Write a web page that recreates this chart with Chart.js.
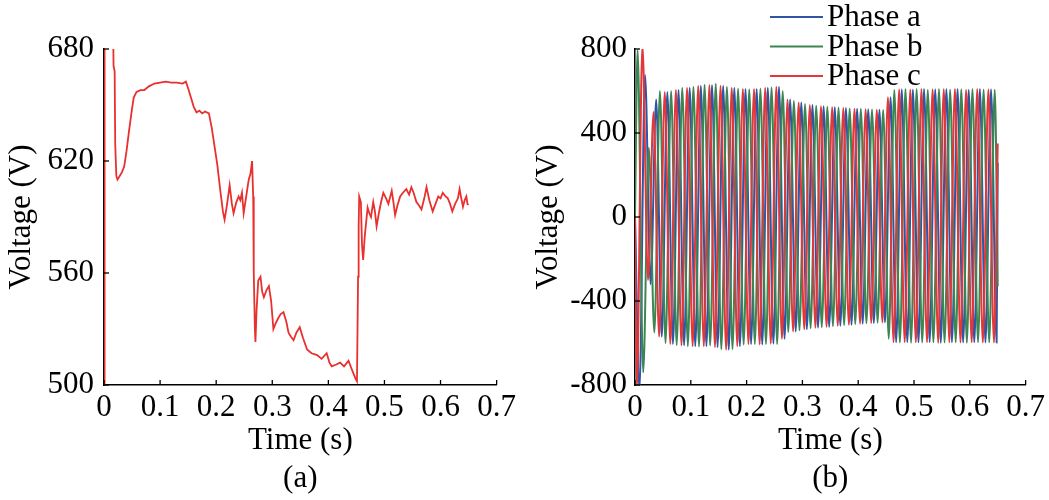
<!DOCTYPE html>
<html>
<head>
<meta charset="utf-8">
<script src="https://cdn.jsdelivr.net/npm/chart.js@4"></script>
<style>
  html, body { margin: 0; padding: 0; background: #fff; }
  #wrap { position: relative; width: 1049px; height: 500px; overflow: hidden; }
  canvas { position: absolute; top: 0; }
  #chartA { left: 0; }
  #chartB { left: 525px; }
</style>
</head>
<body>
<div id="wrap">
  <canvas id="chartA" width="520" height="500"></canvas>
  <canvas id="chartB" width="524" height="500"></canvas>
</div>
<script>
// ---- panel (a): DC-link voltage ----
const timeLeft = [0, 0.001, 0.016, 0.017, 0.019, 0.02, 0.022, 0.024, 0.028, 0.032, 0.036, 0.04, 0.045, 0.05, 0.053,
  0.058, 0.065, 0.072, 0.08, 0.09, 0.1, 0.11, 0.12, 0.13, 0.14, 0.146, 0.15, 0.155, 0.16, 0.165, 0.17, 0.175, 0.18,
  0.187, 0.192, 0.197, 0.202, 0.207, 0.212, 0.215, 0.219, 0.224, 0.228, 0.231, 0.236, 0.24, 0.243, 0.246, 0.249,
  0.253, 0.258, 0.261, 0.264, 0.266, 0.267, 0.269, 0.27, 0.272, 0.275, 0.279, 0.282, 0.285, 0.29, 0.294, 0.298,
  0.302, 0.306, 0.311, 0.315, 0.32, 0.325, 0.329, 0.333, 0.338, 0.343, 0.349, 0.355, 0.362, 0.37, 0.38, 0.388,
  0.397, 0.402, 0.406, 0.414, 0.421, 0.428, 0.436, 0.441, 0.445, 0.449, 0.451, 0.452, 0.453, 0.454, 0.455, 0.458,
  0.46, 0.462, 0.465, 0.47, 0.473, 0.476, 0.48, 0.483, 0.486, 0.49, 0.494, 0.498, 0.503, 0.507, 0.513, 0.516, 0.519,
  0.523, 0.528, 0.533, 0.539, 0.544, 0.548, 0.552, 0.557, 0.562, 0.566, 0.571, 0.575, 0.58, 0.586, 0.591, 0.596,
  0.6, 0.604, 0.609, 0.613, 0.617, 0.621, 0.626, 0.631, 0.634, 0.637, 0.64, 0.643, 0.646, 0.648, 0.65];
const voltageLeft = [500, 700, 700, 671, 668, 629, 612, 610, 612, 614, 617, 625, 637, 648, 654,
  657, 658, 658, 660, 661.5, 662, 662.5, 662, 662, 661.5, 662.5, 659, 654, 649, 646, 647, 645.5, 646.5,
  645.5, 638, 628, 618, 605, 593, 588.5, 596, 607, 597, 592, 598, 601, 599, 603, 592,
  600, 610, 613, 620, 601, 560, 530, 523, 540, 556, 558, 550, 547, 551, 553, 545,
  530, 533, 536, 538, 539, 534, 528, 526, 524, 528, 531, 525, 519, 517, 516, 514,
  517, 512, 510, 511, 512, 510, 513, 509, 506, 503, 502, 530, 558, 585, 601, 598,
  575, 567, 580, 595, 592, 590, 598, 593, 585, 592, 598, 603, 600, 597, 604, 598, 591,
  596, 601, 603, 605, 602, 606, 603, 598, 596, 594, 600, 606, 599, 593, 597, 601,
  600, 603, 601, 600, 597, 593, 597, 600, 605, 600, 595.5, 599, 601, 597, 596.5];

const xTickValues = [0, 0.1, 0.2, 0.3, 0.4, 0.5, 0.6, 0.7];
const xTickLabels = ['0', '0.1', '0.2', '0.3', '0.4', '0.5', '0.6', '0.7'];
const yTickValuesA = [500, 560, 620, 680];
const yTickLabelsA = ['500', '560', '620', '680'];

// ---- panel (b): three-phase voltages, peak values read per 10 ms slot ----
const yTickValuesB = [-800, -400, 0, 400, 800];
const yTickLabelsB = ['-800', '-400', '0', '400', '800'];
const halfPeriod = 0.01;
const firstPeakA = 0.008, firstPeakB = 0.0047, firstPeakC = 0.0033;
const startA = [-820, 676, -320, 560];
const startB = [795, -740, 330, -550];
const startC = [-820, 820, -300, 500];
const endA = 257, endB = -330, endC = 350;
const envHigh = [800, 800, 500, 570,
  600, 595, 600, 605, 615, 615, 620, 625, 630, 628, 635, 625, 620, 615, 612, 610, 608, 610, 612, 615, 618, 620,
  600, 560, 552, 545, 538, 533, 530, 527, 525, 523, 521, 519, 517, 516, 515, 513, 512, 511, 510,
  570,
  605, 608, 610, 607, 609, 610, 606, 608, 610, 609, 607, 610, 608, 606, 609, 610, 607, 608, 606];
const envLow = [-800, -740, -620, -550,
  -570, -600, -605, -610, -612, -615, -615, -617, -615, -612, -620, -630, -632, -630, -615, -608, -605, -605, -607, -605, -603, -605,
  -580, -548, -545, -540, -535, -530, -527, -525, -523, -520, -518, -515, -513, -510, -508, -506, -505, -503, -502,
  -580,
  -597, -598, -596, -599, -597, -598, -596, -597, -599, -598, -596, -597, -598, -599, -597, -596, -598, -597, -598];
const tEnd = 0.65;

const serif = '"Liberation Serif", "Times New Roman", serif';
const font31 = { family: serif, size: 31 };

function phasePoints(first, start, endVal) {
  const pts = [{ x: 0, y: 0 }];
  const positiveFirst = start[0] > 0;
  for (let i = 0; ; i++) {
    const t = first + i * halfPeriod;
    if (t > tEnd) break;
    let y;
    if (i < start.length) {
      y = start[i];
    } else {
      const slot = Math.min(Math.floor(t / halfPeriod), envHigh.length - 1);
      const up = (i % 2 === 0) === positiveFirst;
      y = up ? envHigh[slot] : envLow[slot];
    }
    pts.push({ x: t, y: y });
  }
  pts.push({ x: tEnd, y: endVal });
  return pts;
}

const innerTicks = {
  id: 'innerTicks',
  afterDraw(chart) {
    const { ctx, chartArea, scales } = chart;
    ctx.save();
    ctx.strokeStyle = '#000';
    ctx.lineWidth = 1.3;
    scales.x.ticks.forEach(t => {
      const px = scales.x.getPixelForValue(t.value);
      ctx.beginPath();
      ctx.moveTo(px, chartArea.bottom);
      ctx.lineTo(px, chartArea.bottom - 5);
      ctx.stroke();
    });
    scales.y.ticks.forEach(t => {
      const py = scales.y.getPixelForValue(t.value);
      ctx.beginPath();
      ctx.moveTo(chartArea.left, py);
      ctx.lineTo(chartArea.left + 5, py);
      ctx.stroke();
    });
    ctx.restore();
  }
};

function axes(yVals, yLabels, yMin, yMax, yWidth, yTitlePad, yLabelPad, panel) {
  return {
    x: {
      type: 'linear', min: 0, max: 0.7,
      afterFit: s => { s.height = 115; },
      afterBuildTicks: s => { s.ticks = xTickValues.map(v => ({ value: v })); },
      ticks: { callback: (v, i) => xTickLabels[i], font: font31, color: '#000', padding: 4, maxRotation: 0, autoSkip: false },
      grid: { display: false, drawTicks: false },
      border: { display: true, color: '#000', width: 1.5 },
      title: { display: true, text: ['Time (s)', panel], color: '#000', padding: { top: 0, bottom: 2 },
        font: { family: serif, size: 31, lineHeight: 1.23 } }
    },
    y: {
      type: 'linear', min: yMin, max: yMax,
      afterFit: s => { s.width = yWidth; },
      afterBuildTicks: s => { s.ticks = yVals.map(v => ({ value: v })); },
      ticks: { callback: (v, i) => yLabels[i], font: font31, color: '#000', padding: yLabelPad, autoSkip: false },
      grid: { display: false, drawTicks: false },
      border: { display: true, color: '#000', width: 1.5 },
      title: { display: true, text: 'Voltage (V)', color: '#000', padding: { top: yTitlePad, bottom: 0 },
        font: { family: serif, size: 31, lineHeight: 1.2 } }
    }
  };
}

new Chart(document.getElementById('chartA'), {
  type: 'line',
  data: {
    datasets: [{
      data: timeLeft.map((t, i) => ({ x: t, y: voltageLeft[i] })),
      borderColor: '#e8302e', borderWidth: 1.8, pointRadius: 0, tension: 0
    }]
  },
  options: {
    responsive: false, animation: false,
    layout: { padding: { top: 49, right: 23, left: 0, bottom: 0 } },
    plugins: { legend: { display: false }, tooltip: { enabled: false } },
    scales: axes(yTickValuesA, yTickLabelsA, 500, 680, 104, 3, 10, '(a)')
  },
  plugins: [innerTicks]
});

const phaseNames = ['Phase a', 'Phase b', 'Phase c'];
const phaseColors = ['#2f55a4', '#3d8552', '#e2383a'];

const phaseLegend = {
  id: 'phaseLegend',
  afterDraw(chart) {
    const ctx = chart.ctx;
    ctx.save();
    ctx.font = '31px ' + serif;
    ctx.textBaseline = 'middle';
    ctx.fillStyle = '#000';
    phaseNames.forEach((name, i) => {
      const y = 17 + i * 29.5;
      ctx.strokeStyle = phaseColors[i];
      ctx.lineWidth = 2;
      ctx.beginPath();
      ctx.moveTo(245, y);
      ctx.lineTo(298, y);
      ctx.stroke();
      ctx.fillText(name, 302, y + 1);
    });
    ctx.restore();
  }
};

new Chart(document.getElementById('chartB'), {
  type: 'line',
  data: {
    datasets: [
      { label: phaseNames[0], data: phasePoints(firstPeakA, startA, endA), borderColor: phaseColors[0], order: 3 },
      { label: phaseNames[1], data: phasePoints(firstPeakB, startB, endB), borderColor: phaseColors[1], order: 2 },
      { label: phaseNames[2], data: phasePoints(firstPeakC, startC, endC), borderColor: phaseColors[2], order: 1 }
    ].map(d => Object.assign(d, { borderWidth: 2, pointRadius: 0, cubicInterpolationMode: 'monotone' }))
  },
  options: {
    responsive: false, animation: false,
    layout: { padding: { top: 49, right: 21, left: 0, bottom: 0 } },
    plugins: { legend: { display: false }, tooltip: { enabled: false } },
    scales: axes(yTickValuesB, yTickLabelsB, -800, 800, 110, 5, 8, '(b)')
  },
  plugins: [innerTicks, phaseLegend]
});
</script>
</body>
</html>
